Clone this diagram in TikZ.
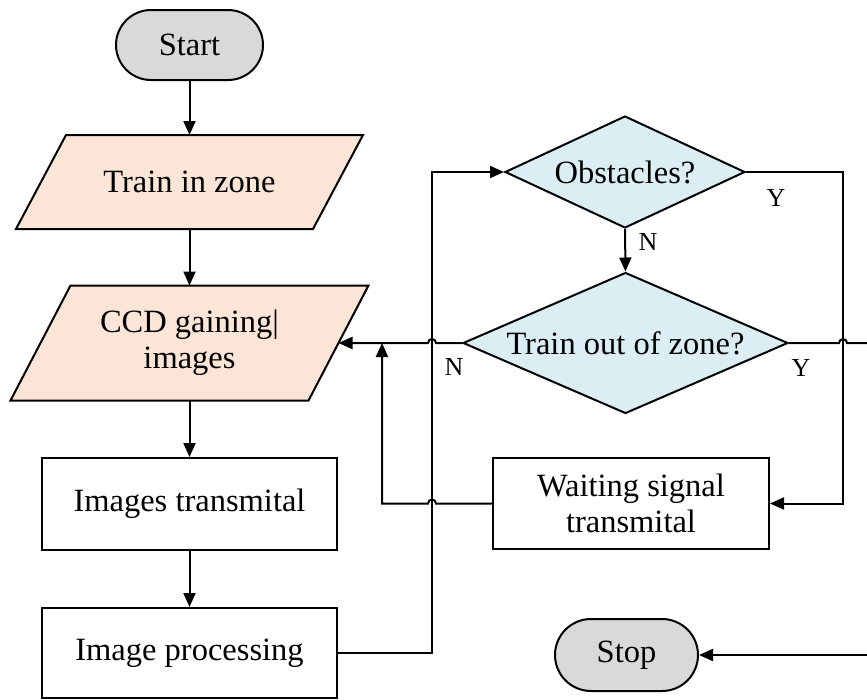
\documentclass[tikz,border=0pt]{standalone}
\usepackage{fontspec}
\setmainfont{Liberation Serif}
\usetikzlibrary{shapes.geometric,shapes.misc,arrows.meta,calc,backgrounds}
\definecolor{peach}{HTML}{FBE5D6}
\definecolor{grayfill}{HTML}{D9D9D9}
\definecolor{aqua}{HTML}{DAEEF3}
\begin{document}
\begin{tikzpicture}[x=1pt,y=1pt,
  line width=2pt,
  every node/.style={font=\fontsize{32.5}{36}\selectfont, align=center},
  term/.style={rounded rectangle, draw, fill=grayfill, inner sep=0pt},
  procbox/.style={rectangle, draw, fill=white, inner sep=0pt},
  paraframe/.style={rectangle, draw=none, inner sep=0pt},
  paraoutline/.style={draw=black, line width=2pt, line join=miter, fill=peach},
  decision/.style={diamond, draw, fill=aqua, inner sep=0pt},
  arr/.style={-{Triangle[length=14pt,width=12pt]}},
  lab/.style={font=\fontsize{26}{30}\selectfont, inner sep=0pt}
]
\useasboundingbox (0,0) rectangle (867,-699);

% nodes
\node[term, minimum width=147pt, minimum height=70pt] (start) at (189.5,-45) {Start};
\node[paraframe, minimum width=295pt, minimum height=92pt] (tz) at (189.5,-182) {Train in zone};
\node[paraframe, minimum width=296pt, minimum height=113pt] (ccd) at (189.5,-343) {CCD gaining|\\images};
\node[procbox, minimum width=295pt, minimum height=92pt] (it) at (189.5,-504) {Images transmital};
\node[procbox, minimum width=295pt, minimum height=90pt] (ip) at (189.5,-653) {Image processing};
\node[decision, aspect=2.14, minimum width=240pt, minimum height=112pt] (obs) at (625,-172) {Obstacles?};
\node[decision, aspect=2.3, minimum width=325pt, minimum height=141pt] (toz) at (625.5,-343) {Train out of zone?};
\node[procbox, minimum width=276pt, minimum height=91pt] (wst) at (631,-503.5) {Waiting signal\\transmital};
\node[term, minimum width=143pt, minimum height=72pt] (stop) at (626.5,-655) {Stop};

% parallelogram outlines
\begin{scope}[on background layer]
\draw[paraoutline] ([xshift=25pt]tz.north west) -- ([xshift=25pt]tz.north east) -- ([xshift=-25pt]tz.south east) -- ([xshift=-25pt]tz.south west) -- cycle;
\draw[paraoutline] ([xshift=30pt]ccd.north west) -- ([xshift=30pt]ccd.north east) -- ([xshift=-30pt]ccd.south east) -- ([xshift=-30pt]ccd.south west) -- cycle;
\end{scope}

% helper coordinates
\coordinate (vx) at (432,0);
\coordinate (rx) at (843,0);
\coordinate (lx) at (382,0);
\coordinate (rend) at (867,-343);
\coordinate (send) at (867,-655);

% connectors
\draw[arr] (start.south) -- (tz.north);
\draw[arr] (tz.south) -- (ccd.north);
\draw[arr] (ccd.south) -- (it.north);
\draw[arr] (it.south) -- (ip.north);
\draw[arr] (ip.east) -- (vx |- ip.east) -- (vx |- obs.west) -- (obs.west);
\draw[arr] (obs.south) -- (toz.north);
\node[lab] (n1) at ($(obs.south)+(23,-13)$) {N};
\draw[arr] (obs.east) -- (rx |- obs.east) -- (rx |- wst.east) -- (wst.east);
\node[lab] (y1) at ($(obs.east)+(30,-26)$) {Y};
\draw[arr] (toz.west) -- ($(vx |- toz.west)+(4,0)$) arc[start angle=0,end angle=180,radius=4] -- (ccd.east);
\node[lab] (n2) at ($(toz.west)+(-8,-24)$) {N};
\draw[arr] (wst.west) -- ($(vx |- wst.west)+(4,0)$) arc[start angle=0,end angle=180,radius=4] -- (lx |- wst.west) -- (lx |- toz.west);
\draw (toz.east) -- ($(rx |- toz.east)+(-4,0)$) arc[start angle=180,end angle=0,radius=4] -- (rend);
\node[lab] (y2) at ($(toz.east)+(12,-25)$) {Y};
\draw[arr] (send) -- (stop.east);
\end{tikzpicture}
\end{document}
